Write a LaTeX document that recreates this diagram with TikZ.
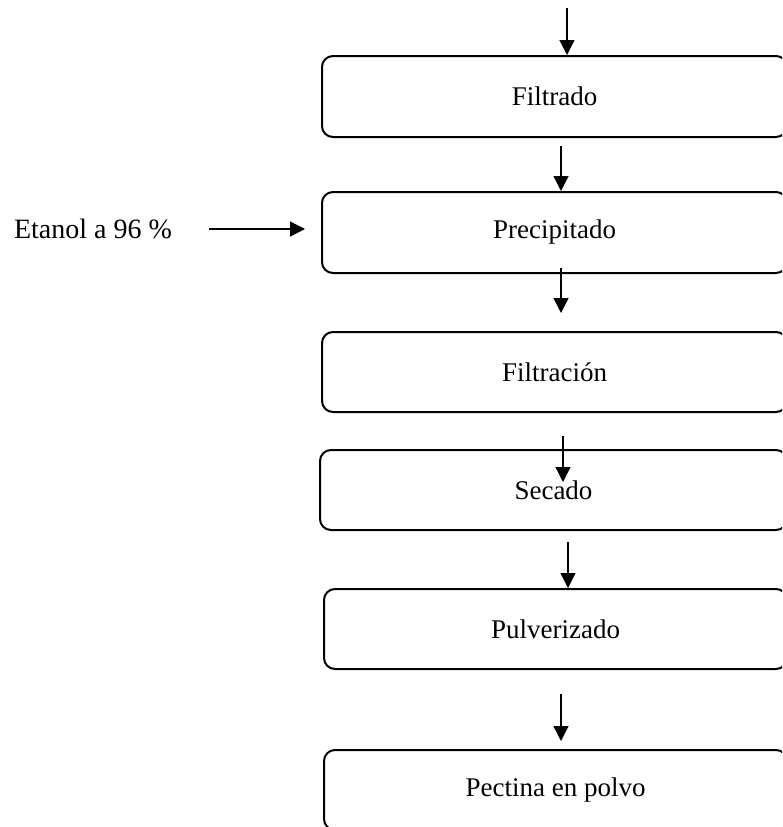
\documentclass[tikz,border=0pt]{standalone}
\usepackage{fontspec}
\setmainfont{Liberation Serif}
\usetikzlibrary{arrows.meta}

\begin{document}
\begin{tikzpicture}[x=1pt, y=-1pt, >={Triangle[length=15pt,width=15pt]},
    caja/.style={draw, line width=2pt, rounded corners=11pt, minimum height=80pt,
      inner sep=0pt, font=\fontsize{27}{32}\selectfont},
    flecha/.style={->, line width=1.3pt}]
    \clip (0, 0) rectangle (782, 827);

    \node[caja, minimum width=465pt, minimum height=81pt] (filtrado) at (554.5, 96.5) {Filtrado};
    \node[caja, minimum width=465pt, minimum height=81pt] (precip) at (554.5, 232.5) {Precipitado};
    \node[caja, minimum width=465pt] (filtracion) at (554.5, 372) {Filtración};
    \node[caja, minimum width=467pt] (secado) at (553.5, 490) {Secado};
    \node[caja, minimum width=463pt] (pulver) at (555.5, 629) {Pulverizado};
    \node[caja, minimum width=463pt] (pectina) at (555.5, 790) {Pectina en polvo};
    \node[font=\fontsize{28}{32}\selectfont] (etanol) at (93, 229) {Etanol a 96 \%};

    \coordinate (ini0) at (567, 8);
    \coordinate (ini1) at (561, 146);
    \coordinate (ini2) at (561, 268);
    \coordinate (fin2) at (561, 313);
    \coordinate (ini3) at (563, 436);
    \coordinate (fin3) at (563, 482);
    \coordinate (ini4) at (568, 542);
    \coordinate (ini5) at (561, 694);
    \coordinate (fin5) at (561, 741);
    \coordinate (ini6) at (209, 229);
    \coordinate (fin6) at (305, 229);

    \draw[flecha] (ini0) -- (ini0 |- filtrado.north);
    \draw[flecha] (ini1) -- (ini1 |- precip.north);
    \draw[flecha] (ini2) -- (fin2);
    \draw[flecha] (ini3) -- (fin3);
    \draw[flecha] (ini4) -- (ini4 |- pulver.north);
    \draw[flecha] (ini5) -- (fin5);
    \draw[flecha] (ini6) -- (fin6);
  \end{tikzpicture}
\end{document}
